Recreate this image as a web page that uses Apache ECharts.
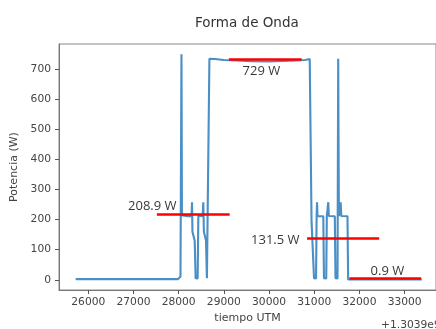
<!DOCTYPE html>
<html>
<head>
<meta charset="utf-8">
<script src="https://cdn.jsdelivr.net/npm/echarts@6/dist/echarts.min.js"></script>
<style>html,body{margin:0;padding:0;background:#fff;}#c{width:436px;height:329px;}</style>
</head>
<body>
<div id="c"></div>
<script>
// time (offset from 1.3039e9 s) and power (W)
var timeValues  = [25720, 27980, 28010, 28040, 28062, 28072, 28100, 28200, 28285, 28295, 28305, 28355, 28375, 28420, 28435, 28530, 28545, 28558, 28605, 28625, 28665, 28680, 28800, 29000, 29300, 29600, 30000, 30300, 30600, 30800, 30900, 30925, 30940, 30975, 30995, 31040, 31052, 31062, 31072, 31200, 31215, 31265, 31278, 31310, 31322, 31455, 31470, 31515, 31530, 31545, 31585, 31597, 31735, 31750, 33380];
var powerValues = [2, 2, 4, 10, 750, 215, 213, 211, 212, 258, 160, 130, 5, 4, 213, 211, 258, 160, 130, 5, 5, 735, 734, 731, 729, 727, 726, 728, 729, 731, 734, 730, 196, 190, 5, 4, 212, 258, 212, 211, 5, 4, 212, 258, 212, 211, 5, 4, 735, 212, 258, 212, 211, 1, 1];

var xTicks = [26000, 27000, 28000, 29000, 30000, 31000, 32000, 33000];
var yTicks = [0, 100, 200, 300, 400, 500, 600, 700];

// annotations
var annotationTexts  = ['729 W', '208.9 W', '131.5 W', '0.9 W'];
var annotationLevels = [732, 217, 138, 5.6];
var annotationStarts = [29111, 27519, 30841, 31778];
var annotationEnds   = [30722, 29128, 32437, 33366];
var annotationTextX  = [29831, 27416, 30138, 32619];
var annotationTextY  = [694, 245, 132, 29];

var lineData = timeValues.map(function (t, i) { return [t, powerValues[i]]; });
var markData = annotationLevels.map(function (lv, i) {
  return [{ coord: [annotationStarts[i], lv] }, { coord: [annotationEnds[i], lv] }];
});
var labelData = annotationTexts.map(function (s, i) {
  return [annotationTextX[i], annotationTextY[i], s];
});

var chart = echarts.init(document.getElementById('c'), null, { renderer: 'canvas' });
chart.setOption({
  animation: false,
  backgroundColor: '#fff',
  title: [
    { text: 'Forma de Onda', left: 190, top: 11,
      textStyle: { fontFamily: 'DejaVu Sans', fontSize: 13.5, fontWeight: 'normal', color: '#333' } },
    { text: '+1.3039e9', left: 376, top: 315,
      textStyle: { fontFamily: 'DejaVu Sans', fontSize: 10.7, fontWeight: 'normal', color: '#444' } }
  ],
  grid: { left: 59, top: 44, width: 380, height: 249, show: true, borderColor: '#888', borderWidth: 1, backgroundColor: 'transparent' },
  xAxis: {
    type: 'value', min: 25352, max: 33694,
    name: 'tiempo UTM', nameLocation: 'middle', nameGap: 23,
    nameTextStyle: { fontFamily: 'DejaVu Sans', fontSize: 11, color: '#444' },
    axisLine: { show: true, onZero: false, lineStyle: { color: '#777' } },
    axisTick: { show: true, length: 4, customValues: xTicks, lineStyle: { color: '#555' } },
    axisLabel: { customValues: xTicks, margin: 7, fontFamily: 'DejaVu Sans', fontSize: 10.7, color: '#444',
      formatter: function (v) { return String(v); } },
    splitLine: { show: false }
  },
  yAxis: {
    type: 'value', min: -34, max: 784,
    name: 'Potencia (W)', nameLocation: 'middle', nameGap: 35,
    nameTextStyle: { fontFamily: 'DejaVu Sans', fontSize: 11, color: '#444' },
    axisLine: { show: true, onZero: false, lineStyle: { color: '#777' } },
    axisTick: { show: true, length: 4, customValues: yTicks, lineStyle: { color: '#555' } },
    axisLabel: { customValues: yTicks, margin: 8, fontFamily: 'DejaVu Sans', fontSize: 10.7, color: '#444',
      formatter: function (v) { return String(v); } },
    splitLine: { show: false }
  },
  series: [
    {
      type: 'line', data: lineData, showSymbol: false, symbol: 'none',
      lineStyle: { color: '#4a8fc6', width: 2.1 }, z: 2
    },
    {
      type: 'line', data: [], z: 3,
      markLine: {
        silent: true, symbol: 'none', animation: false,
        lineStyle: { color: '#ff0000', width: 2.6, type: 'solid' },
        label: { show: false },
        data: markData
      }
    },
    {
      type: 'scatter', data: labelData, symbolSize: 0, z: 4, silent: true,
      label: {
        show: true, position: 'inside', formatter: function (p) { return p.data[2]; },
        fontFamily: 'Open Sans', fontSize: 13, color: '#000'
      }
    }
  ]
});
</script>
</body>
</html>
